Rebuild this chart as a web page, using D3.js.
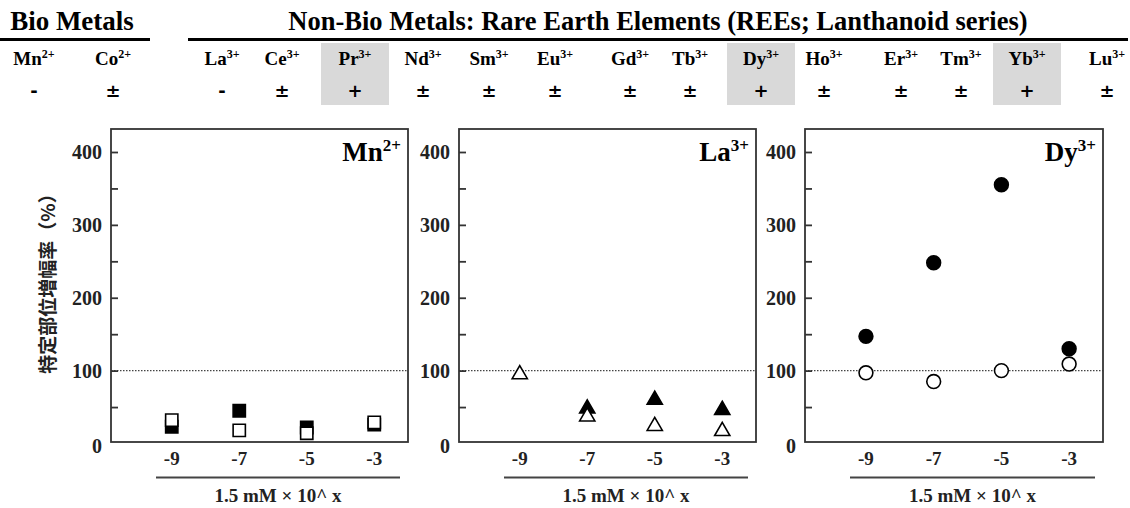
<!DOCTYPE html>
<html>
<head>
<meta charset="utf-8">
<script src="https://cdn.jsdelivr.net/npm/d3@7"></script>
<style>
body { margin: 0; background: #fff; }
</style>
</head>
<body>
<script>
// header table
var elements = ['Mn', 'Co', 'La', 'Ce', 'Pr', 'Nd', 'Sm', 'Eu', 'Gd', 'Tb', 'Dy', 'Ho', 'Er', 'Tm', 'Yb', 'Lu'];
var charges  = ['2+', '2+', '3+', '3+', '3+', '3+', '3+', '3+', '3+', '3+', '3+', '3+', '3+', '3+', '3+', '3+'];
var effects  = ['-', '±', '-', '±', '+', '±', '±', '±', '±', '±', '+', '±', '±', '±', '+', '±'];

// panel data
var xValues = [-9, -7, -5, -3];
var xTickLabels = ['-9', '-7', '-5', '-3'];
var yMajorTicks = [0, 100, 200, 300, 400];
var yMinorTicks = [50, 150, 250, 350];
var mnFilled = [23, 45, 22, 26];
var mnOpen   = [32, 18, 14, 29];
var laFilled = [null, 50, 62, 48];
var laOpen   = [97, 39, 26, 19];
var dyFilled = [147, 248, 355, 130];
var dyOpen   = [97, 85, 100, 109];

// layout
var W = 1130, H = 508;
var colX = [34, 113, 222, 282, 355, 423, 489, 555, 630, 690, 761, 824, 901, 961, 1027, 1107];
var panelTop = 129, panelBottom = 442;
var panels = [
	{left: 111, right: 408, ion: 'Mn', charge: '2+', shape: 'square', filled: mnFilled, open: mnOpen},
	{left: 459, right: 756, ion: 'La', charge: '3+', shape: 'triangle', filled: laFilled, open: laOpen},
	{left: 805, right: 1103, ion: 'Dy', charge: '3+', shape: 'circle', filled: dyFilled, open: dyOpen}
];
var serif = '"Liberation Serif", "Times New Roman", serif';

var svg = d3.select('body').append('svg')
	.attr('width', W).attr('height', H);

// ---- header ----
// grey highlight for "+" columns
svg.selectAll('.hl')
	.data(effects.map(function(e, i){ return {e: e, i: i}; }).filter(function(d){ return d.e == '+'; }))
	.enter().append('rect')
	.attr('class', 'hl')
	.attr('x', function(d){ return colX[d.i] - 34; })
	.attr('y', 43)
	.attr('width', 68)
	.attr('height', 62)
	.attr('fill', '#d9d9d9');

svg.append('text').text('Bio Metals')
	.attr('x', 72).attr('y', 30).attr('text-anchor', 'middle')
	.attr('font-family', serif).attr('font-weight', 'bold').attr('font-size', '27px');
svg.append('text').text('Non-Bio Metals: Rare Earth Elements (REEs; Lanthanoid series)')
	.attr('x', 658).attr('y', 30).attr('text-anchor', 'middle')
	.attr('font-family', serif).attr('font-weight', 'bold').attr('font-size', '26.5px');

svg.append('line').attr('x1', 0).attr('x2', 150).attr('y1', 39.5).attr('y2', 39.5)
	.attr('stroke', '#000').attr('stroke-width', 3);
svg.append('line').attr('x1', 188).attr('x2', 1128).attr('y1', 39.5).attr('y2', 39.5)
	.attr('stroke', '#000').attr('stroke-width', 3);

var lab = svg.selectAll('.elem').data(elements).enter().append('text')
	.attr('class', 'elem')
	.attr('x', function(d, i){ return colX[i]; })
	.attr('y', 65)
	.attr('text-anchor', 'middle')
	.attr('font-family', serif).attr('font-weight', 'bold').attr('font-size', '19px');
lab.append('tspan').text(function(d){ return d; });
lab.append('tspan').text(function(d, i){ return charges[i]; })
	.attr('font-size', '12px').attr('dy', -7);

svg.selectAll('.eff').data(effects).enter().append('text')
	.attr('class', 'eff')
	.attr('x', function(d, i){ return colX[i]; })
	.attr('y', 97)
	.attr('text-anchor', 'middle')
	.attr('font-family', '"DejaVu Sans", sans-serif').attr('font-weight', 'bold')
	.attr('font-size', '18px')
	.text(function(d){ return d; });

// ---- y label ----
svg.append('text').text('特定部位増幅率（%）')
	.attr('transform', 'translate(55,279) rotate(-90)')
	.attr('text-anchor', 'middle')
	.attr('font-family', '"Noto Sans CJK JP", sans-serif').attr('font-weight', 'bold')
	.attr('font-size', '19px').attr('fill', '#222');

// ---- panels ----
var yScale = d3.scaleLinear().domain([0, 400]).range([443.5, 152]);

panels.forEach(function(p){
	var xScale = d3.scaleLinear().domain([-10.8, -2]).range([p.left, p.right]);
	var g = svg.append('g');

	// dotted reference line at 100
	g.append('line')
		.attr('x1', p.left).attr('x2', p.right)
		.attr('y1', yScale(100)).attr('y2', yScale(100))
		.attr('stroke', '#444').attr('stroke-width', 1.2).attr('stroke-dasharray', '1.5,1.5');

	// frame
	g.append('rect')
		.attr('x', p.left).attr('y', panelTop)
		.attr('width', p.right - p.left).attr('height', panelBottom - panelTop)
		.attr('fill', 'none').attr('stroke', '#333').attr('stroke-width', 1.8);

	// y axis, ticks pointing inward
	var yAxis = d3.axisRight(yScale).tickValues(yMajorTicks.concat(yMinorTicks)).tickSize(7).tickFormat('');
	var ya = g.append('g').attr('transform', 'translate(' + p.left + ',0)').call(yAxis);
	ya.select('.domain').remove();
	ya.selectAll('.tick line').attr('stroke', '#333').attr('stroke-width', 1.8);
	ya.selectAll('.tick').filter(function(d){ return d == 0; }).remove();

	g.selectAll('.ylab').data(yMajorTicks).enter().append('text')
		.attr('x', p.left - 9)
		.attr('y', function(d){ return yScale(d) + (d == 0 ? 9 : 7); })
		.attr('text-anchor', 'end')
		.attr('font-family', serif).attr('font-weight', 'bold').attr('font-size', '20px')
		.attr('fill', '#222')
		.text(function(d){ return d; });

	// x tick labels
	g.selectAll('.xlab').data(xValues).enter().append('text')
		.attr('x', function(d){ return xScale(d); })
		.attr('y', 465)
		.attr('text-anchor', 'middle')
		.attr('font-family', serif).attr('font-weight', 'bold').attr('font-size', '19px')
		.attr('fill', '#222')
		.text(function(d, i){ return xTickLabels[i]; });

	// x label with rule
	g.append('line')
		.attr('x1', p.left + 45).attr('x2', p.right - 8)
		.attr('y1', 477.5).attr('y2', 477.5)
		.attr('stroke', '#444').attr('stroke-width', 2);
	g.append('text').text('1.5 mM × 10^ x')
		.attr('x', (p.left + 45 + p.right - 8) / 2).attr('y', 502)
		.attr('text-anchor', 'middle')
		.attr('font-family', serif).attr('font-weight', 'bold').attr('font-size', '19px')
		.attr('fill', '#222');

	// ion label
	var il = g.append('text')
		.attr('x', p.right - 7).attr('y', 161)
		.attr('text-anchor', 'end')
		.attr('font-family', serif).attr('font-weight', 'bold').attr('font-size', '27px');
	il.append('tspan').text(p.ion);
	il.append('tspan').text(p.charge).attr('font-size', '17px').attr('dy', -10);

	// markers
	var sym = p.shape == 'square' ? d3.symbolSquare : (p.shape == 'triangle' ? d3.symbolTriangle : d3.symbolCircle);
	var size = p.shape == 'square' ? 150 : (p.shape == 'triangle' ? 100 : 150);
	var pts = function(arr, fill){
		g.selectAll(null)
			.data(arr.map(function(v, i){ return {x: xValues[i], v: v}; }).filter(function(d){ return d.v != null; }))
			.enter().append('path')
			.attr('d', d3.symbol().type(sym).size(size))
			.attr('transform', function(d){
				var dy = p.shape == 'triangle' ? 1.5 : 0;
				return 'translate(' + xScale(d.x) + ',' + (yScale(d.v) + dy) + ')';
			})
			.attr('fill', fill)
			.attr('stroke', '#000').attr('stroke-width', 1.6);
	};
	pts(p.filled, '#000');
	pts(p.open, '#fff');
});
</script>
</body>
</html>
